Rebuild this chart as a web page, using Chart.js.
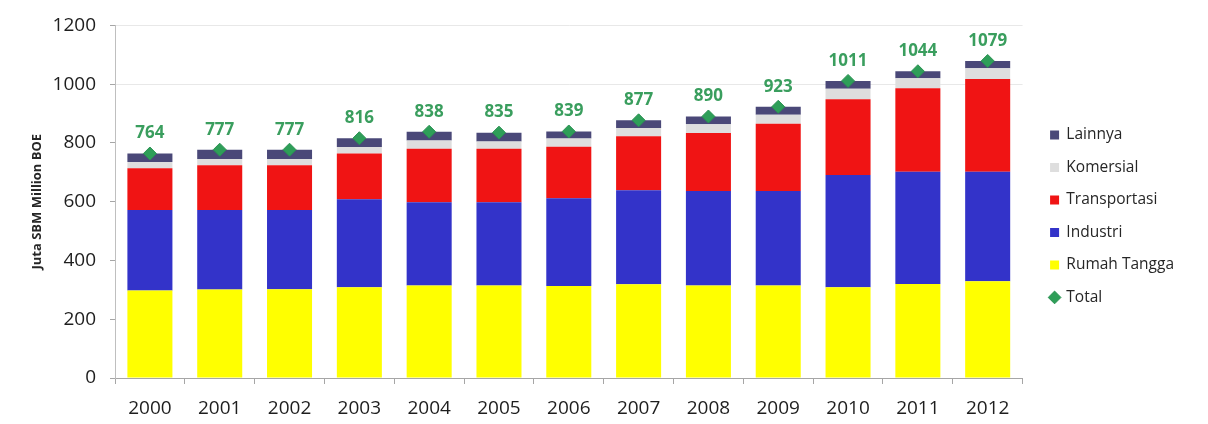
<!DOCTYPE html>
<html>
<head>
<meta charset="utf-8">
<script src="https://cdn.jsdelivr.net/npm/chart.js@4/dist/chart.umd.min.js"></script>
<style>
  html, body { margin: 0; padding: 0; background: #ffffff; }
  #wrap { width: 1208px; height: 424px; }
</style>
</head>
<body>
<div id="wrap"><canvas id="c" width="1208" height="424"></canvas></div>
<script>
const years = ['2000','2001','2002','2003','2004','2005','2006','2007','2008','2009','2010','2011','2012'];
const rumahTangga  = [298, 301, 302, 309, 315, 315, 313, 319, 315, 315, 309, 320, 329];
const industri     = [274, 271, 270, 299, 283, 283, 299, 320, 321, 321, 382, 382, 373];
const transportasi = [142, 152, 152, 156, 182, 182, 175, 184, 198, 229, 258, 284, 316];
const komersial    = [21, 21, 21, 22, 28, 25, 28, 28, 30, 31, 35, 34, 36];
const lainnya      = [29, 32, 32, 30, 30, 30, 24, 26, 26, 27, 27, 24, 25];
const total        = [764, 777, 777, 816, 838, 835, 839, 877, 890, 923, 1011, 1044, 1079];
const yAxisTitle = 'Juta SBM Million BOE';

const FONT = "'Open Sans', 'DejaVu Sans', sans-serif";

const totalLabels = {
  id: 'totalLabels',
  afterDatasetsDraw(chart) {
    const idx = chart.data.datasets.findIndex(d => d.label === 'Total');
    const meta = chart.getDatasetMeta(idx);
    const ctx = chart.ctx;
    ctx.save();
    ctx.font = "bold 17px " + FONT;
    ctx.fillStyle = '#3a9e5e';
    ctx.textAlign = 'center';
    ctx.textBaseline = 'middle';
    meta.data.forEach((pt, i) => {
      ctx.fillText(String(chart.data.datasets[idx].data[i]), pt.x, pt.y - 20);
    });
    ctx.restore();
  }
};

const barCommon = { stack: 'sektor', barPercentage: 0.645, categoryPercentage: 1.0, borderWidth: 0, pointStyle: 'rect', order: 1 };

new Chart(document.getElementById('c'), {
  type: 'bar',
  data: {
    labels: years,
    datasets: [
      Object.assign({ label: 'Rumah Tangga', data: rumahTangga, backgroundColor: '#ffff00' }, barCommon),
      Object.assign({ label: 'Industri', data: industri, backgroundColor: '#3333c9' }, barCommon),
      Object.assign({ label: 'Transportasi', data: transportasi, backgroundColor: '#f01414' }, barCommon),
      Object.assign({ label: 'Komersial', data: komersial, backgroundColor: '#dedede' }, barCommon),
      Object.assign({ label: 'Lainnya', data: lainnya, backgroundColor: '#4a4878' }, barCommon),
      {
        type: 'line', label: 'Total', data: total, stack: 'total', showLine: false,
        pointStyle: 'rectRot', pointRadius: 6.5, pointHoverRadius: 6.5,
        backgroundColor: '#2e9e58', borderColor: '#2a9152', borderWidth: 1, order: 0
      }
    ]
  },
  options: {
    responsive: false,
    animation: false,
    layout: { padding: { left: 25, right: 24, top: 23.5, bottom: 4 } },
    plugins: {
      tooltip: { enabled: false },
      legend: {
        position: 'right',
        align: 'start',
        title: { display: true, text: ' ', padding: { top: 0, bottom: 72.3 }, font: { size: 12 } },
        labels: {
          usePointStyle: true,
          boxWidth: 8,
          boxHeight: 9,
          padding: 17,
          color: '#262626',
          font: { family: FONT, size: 15.5 },
          sort: (a, b) => {
            const rank = i => (i === 5 ? 99 : -i);
            return rank(a.datasetIndex) - rank(b.datasetIndex);
          }
        }
      }
    },
    scales: {
      x: {
        stacked: true,
        offset: true,
        afterFit: s => { s.height = 42; },
        grid: { display: true, offset: true, drawOnChartArea: false, drawTicks: true, tickLength: 6, tickColor: '#a6a6a6' },
        border: { display: true, color: '#a6a6a6', width: 1 },
        ticks: { color: '#1e1e1e', font: { family: FONT, size: 19 }, padding: 13.5, maxRotation: 0 }
      },
      y: {
        stacked: true,
        min: 0, max: 1200,
        afterFit: s => { s.width = 90; },
        ticks: { stepSize: 200, color: '#1e1e1e', font: { family: FONT, size: 19 }, padding: 14, callback: v => String(v) },
        grid: {
          color: c => (c.tick && c.tick.value >= 1000 ? '#e8e8e8' : 'rgba(0,0,0,0)'),
          drawTicks: true, tickLength: 5, tickColor: '#a6a6a6'
        },
        border: { display: true, color: '#bfbfbf', width: 1 },
        title: { display: true, text: yAxisTitle, color: '#262626', font: { family: FONT, size: 13, weight: 'bold' }, padding: { top: 4, bottom: 8 } }
      },
      yR: {
        position: 'right',
        display: true,
        min: 0, max: 1,
        ticks: { display: false },
        grid: { display: false, drawTicks: false },
        border: { display: false },
        afterFit: s => { s.width = 11; }
      }
    }
  },
  plugins: [totalLabels]
});
</script>
</body>
</html>
